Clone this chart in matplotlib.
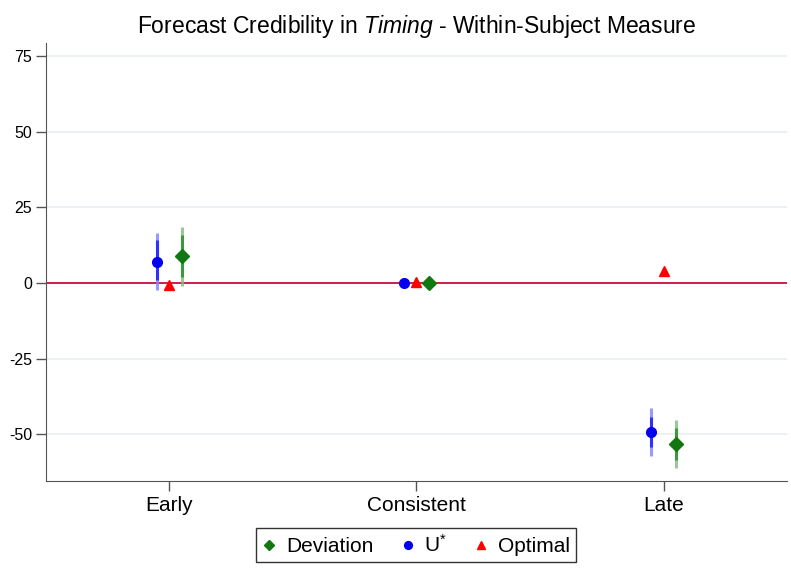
import numpy as np
import matplotlib
matplotlib.use('Agg')
import matplotlib.pyplot as plt

plt.rcParams['font.family'] = ['Liberation Sans', 'DejaVu Sans']
plt.rcParams['mathtext.fontset'] = 'custom'
plt.rcParams['mathtext.rm'] = 'Liberation Sans'
plt.rcParams['mathtext.it'] = 'Liberation Sans:italic'

# categories and estimates
cats = ['Early', 'Consistent', 'Late']

dev = [8.9, 0.0, -53.2]
dev_lo90 = [2.0, 0.0, -58.5]
dev_hi90 = [15.9, 0.0, -47.9]
dev_lo95 = [-1.0, 0.0, -61.1]
dev_hi95 = [18.5, 0.0, -45.3]

ustar = [6.9, 0.0, -49.2]
ustar_lo90 = [1.0, 0.0, -54.2]
ustar_hi90 = [14.2, 0.0, -44.3]
ustar_lo95 = [-2.3, 0.0, -57.2]
ustar_hi95 = [16.5, 0.0, -41.3]

optimal = [-0.8, 0.2, 4.0]

yticks = [-50, -25, 0, 25, 50, 75]

fig = plt.figure(figsize=(7.91, 5.72), dpi=100)
ax = fig.add_axes([0.058, 0.159, 0.937, 0.766])

x = np.arange(1, len(cats) + 1)
off = 0.049

ax.axhline(0, color='#c8103e', lw=1.3, zorder=1)

# confidence intervals: outer 95% lighter, inner 90% darker
ax.vlines(x - off, ustar_lo95, ustar_hi95, color='#8080ff', lw=2.2, alpha=0.8, zorder=2)
ax.vlines(x - off, ustar_lo90, ustar_hi90, color='#3030ff', lw=2.2, zorder=3)
ax.vlines(x + off, dev_lo95, dev_hi95, color='#80bb80', lw=2.2, alpha=0.8, zorder=2)
ax.vlines(x + off, dev_lo90, dev_hi90, color='#3a9a3a', lw=2.2, zorder=3)

ax.plot(x + off, dev, 'D', color='#117711', ms=7, ls='none', label='Deviation', zorder=4)
ax.plot(x - off, ustar, 'o', color='#0000ee', ms=7, ls='none', label=r'U$^{*}$', zorder=4)
ax.plot(x, optimal, '^', color='#ff0000', ms=7.5, ls='none', label='Optimal', zorder=4)

ax.set_xlim(0.5, 3.5)
ax.set_ylim(-65.5, 79.3)
ax.set_xticks(x)
ax.set_xticklabels(cats, fontsize=15)
ax.set_yticks(yticks)
ax.set_yticklabels([str(v) for v in yticks], fontsize=11.5)
ax.grid(axis='y', color='#e8eef0', lw=1.2)
ax.set_axisbelow(True)
for s in ['top', 'right']:
    ax.spines[s].set_visible(False)
ax.spines['left'].set_color('#555555')
ax.spines['bottom'].set_color('#555555')
ax.tick_params(axis='both', color='#555555', length=7, width=1)
ax.tick_params(axis='y', pad=3)
ax.tick_params(axis='x', pad=4)

ax.set_title(r'Forecast Credibility in $\mathit{Timing}$ - Within-Subject Measure',
             fontsize=16.5, pad=7)

leg = fig.legend(loc='lower center', bbox_to_anchor=(0.526, 0.006), ncol=3,
                 fontsize=15, frameon=True, fancybox=False, edgecolor='black',
                 handletextpad=0.45, columnspacing=1.3, handlelength=0.7,
                 borderpad=0.3, borderaxespad=0.3, markerscale=0.8)
leg.get_frame().set_linewidth(1.0)

fig.savefig('out.png', dpi=100)
